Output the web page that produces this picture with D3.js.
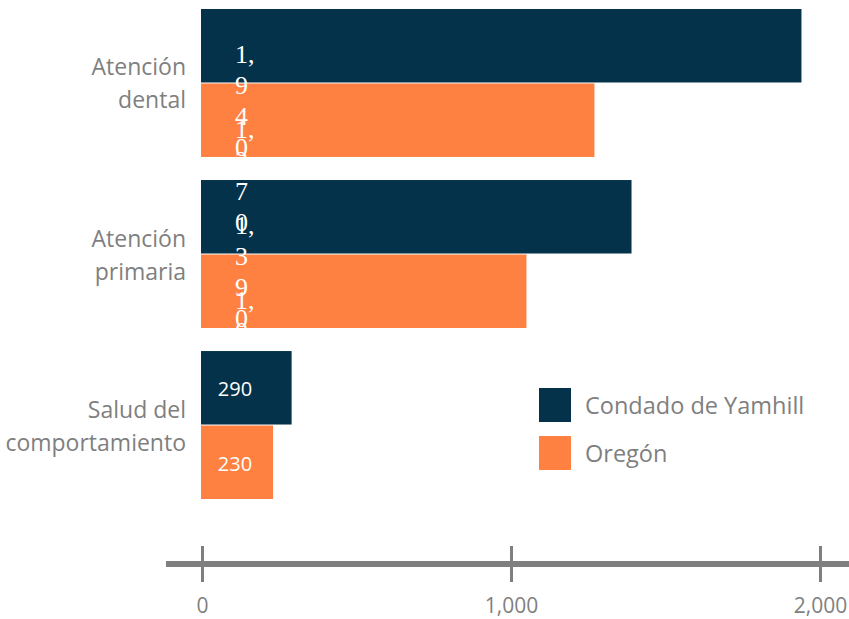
<!DOCTYPE html>
<html>
<head>
<meta charset="utf-8">
<script src="https://cdn.jsdelivr.net/npm/d3@7"></script>
<style>
  body { margin: 0; background: #fff; }
  svg { display: block; }
</style>
</head>
<body>
<svg id="chart" width="849" height="619"></svg>
<script>
const categories = ["Atención dental", "Atención primaria", "Salud del comportamiento"];
const categoryLines = [["Atención", "dental"], ["Atención", "primaria"], ["Salud del", "comportamiento"]];
const seriesNames = ["Condado de Yamhill", "Oregón"];
const yamhill = [1940, 1390, 290];
const oregon = [1270, 1050, 230];
const xTicks = [0, 1000, 2000];

const colors = ["#03324a", "#fe8141"];
const grey = "#7f7f7f";
const sans = "'Open Sans', sans-serif";

const svg = d3.select("#chart");

const x = d3.scaleLinear().domain([0, 2000]).range([202, 820]);
const y = d3.scaleBand().domain(categories).range([9, 500]).paddingInner(0.129);
const ySub = d3.scaleBand().domain(seriesNames).range([0, y.bandwidth()]);

const rows = [];
categories.forEach((c, i) => {
  rows.push({ cat: c, series: seriesNames[0], value: yamhill[i], color: colors[0] });
  rows.push({ cat: c, series: seriesNames[1], value: oregon[i], color: colors[1] });
});

svg.selectAll("rect.bar")
  .data(rows)
  .join("rect")
  .attr("class", "bar")
  .attr("x", x(0) - 1)
  .attr("y", d => y(d.cat) + ySub(d.series))
  .attr("width", d => x(d.value) - x(0) + 1)
  .attr("height", ySub.bandwidth() - 1)
  .attr("fill", d => d.color);

// the big labels wrap one character per line and get cut off above the last group
svg.append("clipPath").attr("id", "labelClip")
  .append("rect")
  .attr("x", 0).attr("y", 0)
  .attr("width", 849).attr("height", y(categories[2]));

const fmt = d3.format(",");
rows.forEach(d => {
  const cy = y(d.cat) + ySub(d.series) + ySub.bandwidth() / 2;
  const s = fmt(d.value);
  if (d.value >= 1000) {
    const parts = [s.slice(0, 2)].concat(s.slice(2).split(""));
    const t = svg.append("text")
      .attr("clip-path", "url(#labelClip)")
      .attr("x", x(0) + 33)
      .attr("y", cy + 17)
      .attr("fill", "#fff")
      .style("font-family", "'Liberation Serif', 'Times New Roman', serif")
      .style("font-size", "26px");
    parts.forEach((p, i) => {
      t.append("tspan").attr("x", x(0) + 33).attr("dy", i === 0 ? 0 : 31).text(p);
    });
  } else {
    svg.append("text")
      .attr("x", x(0) + 33)
      .attr("y", cy + 8)
      .attr("text-anchor", "middle")
      .attr("fill", "#fff")
      .style("font-family", sans)
      .style("font-size", "20px")
      .text(s);
  }
});

// category labels
categories.forEach((c, i) => {
  const cy = y(c) + y.bandwidth() / 2;
  const t = svg.append("text")
    .attr("text-anchor", "end")
    .attr("fill", grey)
    .style("font-family", sans)
    .style("font-size", "23px");
  categoryLines[i].forEach((l, j) => {
    t.append("tspan").attr("x", 186).attr("y", cy - 8 + j * 33).text(l);
  });
});

// axis
const axisY = 564;
const axis = svg.append("g").attr("transform", `translate(0,${axisY})`)
  .call(d3.axisBottom(x).tickValues(xTicks).tickFormat(fmt).tickSize(18).tickPadding(16));
axis.select(".domain").remove();
axis.selectAll(".tick line")
  .attr("y1", -18)
  .attr("stroke", grey)
  .attr("stroke-width", 3);
axis.selectAll(".tick text")
  .attr("fill", grey)
  .style("font-family", sans)
  .style("font-size", "21px");
axis.insert("line", ":first-child")
  .attr("x1", 166).attr("x2", 849)
  .attr("stroke", grey)
  .attr("stroke-width", 6);

// legend
const legend = svg.append("g");
seriesNames.forEach((s, i) => {
  const ly = 388 + i * 48;
  legend.append("rect").attr("x", 539).attr("y", ly).attr("width", 32).attr("height", 34).attr("fill", colors[i]);
  legend.append("text")
    .attr("x", 585).attr("y", ly + 26)
    .attr("fill", grey)
    .style("font-family", sans)
    .style("font-size", "23.5px")
    .text(s);
});
</script>
</body>
</html>
